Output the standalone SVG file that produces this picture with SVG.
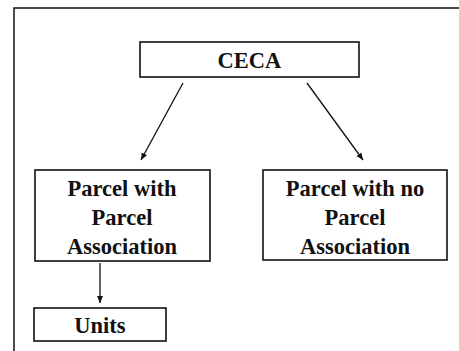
<svg xmlns="http://www.w3.org/2000/svg" width="459" height="351" viewBox="0 0 459 351">
<defs>
<style>
.box{fill:#fff;stroke:#111;stroke-width:1.6}
.t{font-weight:bold;font-size:22.5px;fill:#111;text-anchor:middle}
.c{stroke:#111;stroke-width:1.3;fill:none}
</style>
<marker id="ah" markerWidth="8" markerHeight="8" refX="7" refY="4" orient="auto" markerUnits="userSpaceOnUse">
<path d="M0,1 L7,4 L0,7 Z" fill="#111"/>
</marker>
</defs>
<rect width="459" height="351" fill="#fff"/>
<g id="frame">
<path d="M14,351 L14,8 L459,8" stroke="#111" stroke-width="1.5" fill="none"/>
</g>
<g id="connectors">
<line class="c" x1="183" y1="83" x2="141" y2="160" marker-end="url(#ah)"/>
<line class="c" x1="307" y1="83" x2="363" y2="160" marker-end="url(#ah)"/>
<line class="c" x1="100" y1="263" x2="100" y2="303" marker-end="url(#ah)"/>
</g>
<g font-family="Liberation Serif, Times New Roman, serif">
<g id="ceca">
<rect class="box" x="140" y="42" width="219" height="35"/>
<text class="t" x="249.5" y="68">CECA</text>
</g>
<g id="parcel-with">
<rect class="box" x="35" y="170" width="175" height="91"/>
<text class="t" x="122" y="196">Parcel with</text>
<text class="t" x="122" y="225">Parcel</text>
<text class="t" x="122" y="254">Association</text>
</g>
<g id="parcel-without">
<rect class="box" x="263" y="170" width="184" height="90"/>
<text class="t" x="355" y="196">Parcel with no</text>
<text class="t" x="355" y="225">Parcel</text>
<text class="t" x="355" y="254">Association</text>
</g>
<g id="units">
<rect class="box" x="34" y="308" width="132" height="33"/>
<text class="t" x="100" y="333">Units</text>
</g>
</g>
</svg>
